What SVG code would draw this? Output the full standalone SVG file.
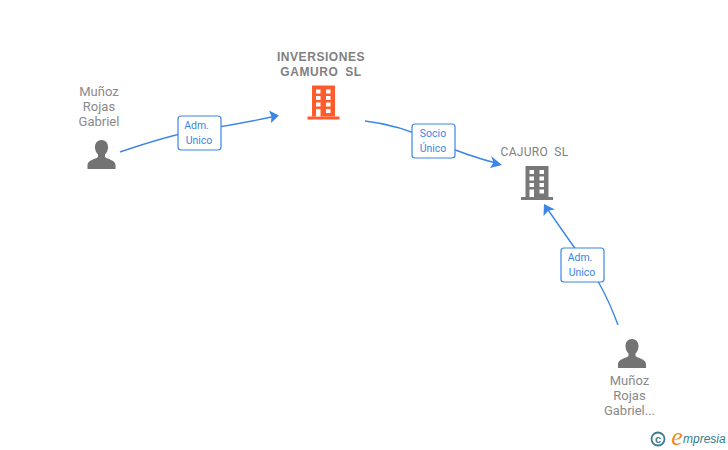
<svg xmlns="http://www.w3.org/2000/svg" width="728" height="450" viewBox="0 0 728 450">
<style>
.name{font-family:"Roboto","Liberation Sans",sans-serif;font-size:13px;fill:#8a8a8a;text-anchor:middle}
.co{font-family:"Liberation Sans",Arial,sans-serif;font-size:12px;font-weight:bold;fill:#808080;text-anchor:middle;letter-spacing:.55px;word-spacing:3px}
.co2{font-family:"Roboto","Liberation Sans",sans-serif;font-size:12px;fill:#808080;text-anchor:middle;letter-spacing:.3px;word-spacing:3px}
.lbl{font-family:"Roboto","Liberation Sans",sans-serif;font-size:10.500px;fill:#3b86e6;text-anchor:middle}
.box{fill:#fff;stroke:#3b86e6;stroke-width:1.2}
.line{fill:none;stroke:#3b86e6;stroke-width:1.4}
.ah{fill:#3b86e6;stroke:none}
</style>
<defs>
<g id="person"><path d="M0-15c-4 0-6.500 3-6.500 7 0 3 1 5.500 3 7.500v2.500c-2 2-10.500 3-10.500 8v4h28v-4c0-5-8.500-6-10.500-8v-2.500c2-2 3-4.500 3-7.500 0-4-2.500-7-6.500-7z" fill="#737373"/></g>
<g id="bld">
<rect x="-11" y="-17.500" width="23" height="31" fill="currentColor"/>
<rect x="-15.500" y="13.500" width="32" height="3" fill="currentColor"/>
<g fill="#fff">
<rect x="-7" y="-13.500" width="4.500" height="4"/><rect x="3" y="-13.500" width="4.500" height="4"/>
<rect x="-7" y="-7" width="4.500" height="4"/><rect x="3" y="-7" width="4.500" height="4"/>
<rect x="-7" y="-0.500" width="4.500" height="4"/><rect x="3" y="-0.500" width="4.500" height="4"/>
<rect x="-7" y="6" width="4.500" height="7.500"/><rect x="3" y="6" width="4.500" height="4"/>
</g></g>
</defs>
<g id="connectors">
<path class="line" d="M120 152Q170 135 199 130Q240 124 276 116"/>
<path class="ah" d="M279 115.500L269 110.500L271.500 116.500L271 123Z"/>
<path class="line" d="M365 121Q400 125 433 141Q465 155 499 164"/>
<path class="ah" d="M502 165L491 156L493.500 162.500L490 168Z"/>
<path class="line" d="M618 325Q610 303 599 283L574 247L546 207"/>
<path class="ah" d="M544 204L543.500 216L548.500 210.500L555 209.500Z"/>
</g>
<g id="node-inversiones">
<text class="co" x="321" y="61">INVERSIONES</text>
<text class="co" x="321" y="76">GAMURO SL</text>
<use href="#bld" x="323" y="103" color="#ff5c2e"/>
</g>
<g id="node-cajuro">
<text class="co2" x="534.500" y="156">CAJURO SL</text>
<use href="#bld" x="536.500" y="183.500" color="#787878"/>
</g>
<g id="node-munoz1">
<text class="name" x="99" y="96">Muñoz</text>
<text class="name" x="99" y="111">Rojas</text>
<text class="name" x="99" y="126">Gabriel</text>
<use href="#person" x="101.500" y="155"/>
</g>
<g id="node-munoz2">
<use href="#person" x="632" y="354"/>
<text class="name" x="629.500" y="385">Muñoz</text>
<text class="name" x="629.500" y="400">Rojas</text>
<text class="name" x="629.500" y="415">Gabriel...</text>
</g>
<g id="label-adm1">
<rect class="box" x="178" y="116" width="43" height="34" rx="3"/>
<text class="lbl" x="196.500" y="129">Adm.</text>
<text class="lbl" x="199" y="144">Unico</text>
</g>
<g id="label-socio">
<rect class="box" x="412" y="124" width="43" height="34" rx="3"/>
<text class="lbl" x="433" y="137">Socio</text>
<text class="lbl" x="433" y="152">Único</text>
</g>
<g id="label-adm2">
<rect class="box" x="561" y="248" width="43" height="34" rx="3"/>
<text class="lbl" x="580" y="261">Adm.</text>
<text class="lbl" x="582" y="276">Unico</text>
</g>
<g id="logo">
<circle cx="658" cy="439" r="6.500" fill="none" stroke="#3a7d92" stroke-width="1.800"/>
<text x="658" y="442.500" font-family="Liberation Sans,sans-serif" font-size="11" font-weight="bold" fill="#3a7d92" text-anchor="middle">c</text>
<text x="677" y="445" font-family="Liberation Serif,serif" font-style="italic" font-size="26" fill="#f08a24" text-anchor="middle">e</text>
<text x="683" y="443" font-family="Liberation Sans,sans-serif" font-style="italic" font-size="12" fill="#2f7d90">mpresia</text>
</g>
</svg>
